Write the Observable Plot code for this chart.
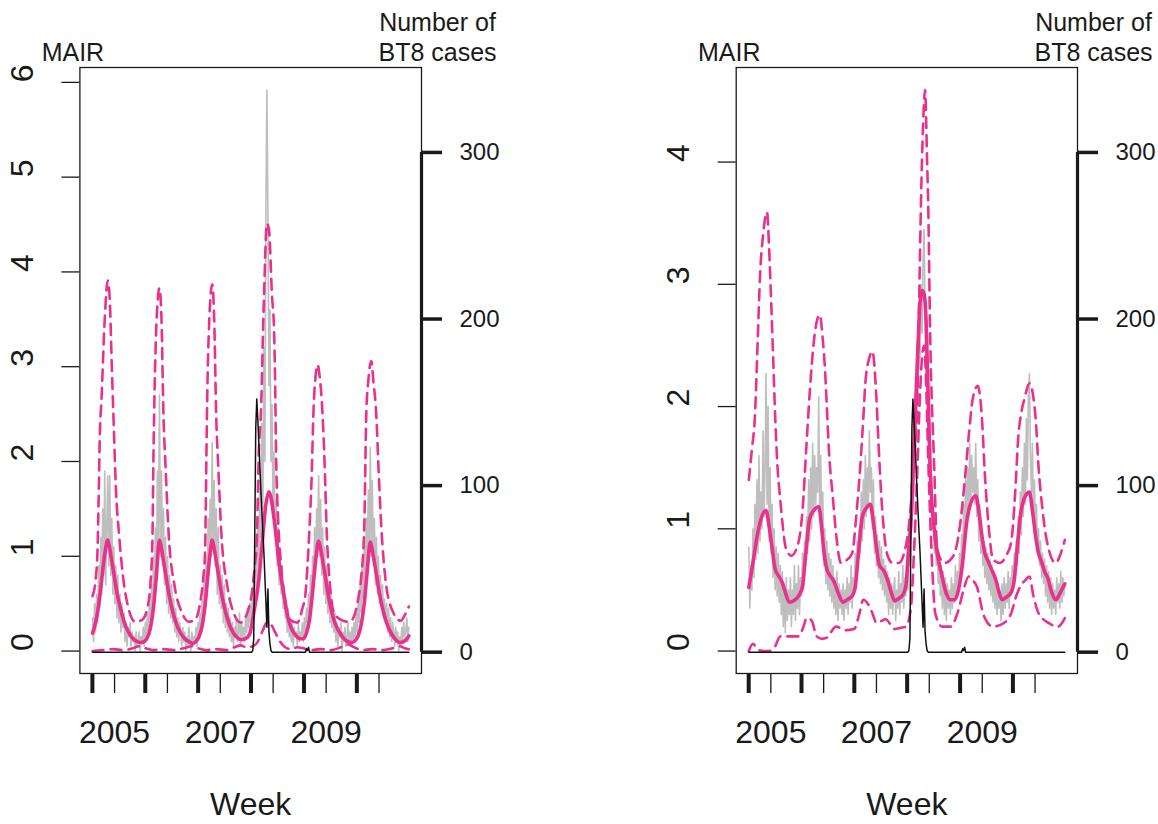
<!DOCTYPE html>
<html><head><meta charset="utf-8">
<script src="https://cdn.jsdelivr.net/npm/d3@7"></script>
<script src="https://cdn.jsdelivr.net/npm/@observablehq/plot@0.6"></script>
<style>
html,body{margin:0;padding:0;background:#fff;}
#wrap{position:relative;width:1158px;height:824px;overflow:hidden;background:#fff;}
#wrap svg{position:absolute;top:0;max-width:none;}
</style></head><body><div id="wrap"></div>
<script>
// ---------- data (weeks counted from the first surveillance week) ----------
const firstWeek = [2004, 7, 2];            // UTC year, month (0-based), day of week 0
const seasonStartYears = [2004, 2005, 2006, 2007, 2008, 2009]; // thick ticks (1 August)
const yearTicks = [2005, 2006, 2007, 2008, 2009, 2010];        // thin ticks (1 January)
const yearLabels = [2005, 2007, 2009];
const mairTicksLeft = [0, 1, 2, 3, 4, 5, 6];
const mairTicksRight = [0, 1, 2, 3, 4];
const bt8Ticks = [0, 100, 200, 300];

const bt8Week  = [0,157,158,159,160,161,162,163,164,165,166,167,168,169,170,171,172,173,174,175,176,177,210,211,212,213,214,312];
const bt8Cases = [0,0,1,8,70,135,152,140,126,112,98,85,72,60,45,30,15,38,12,5,1,0,0,2,1,3,0,0];

const leftObserved = [
0.35,0.1,0.5,0.2,0.6,0.3,0.9,0.45,1.2,0.6,1.5,0.8,1.9,0.7,1.3,
1.85,0.9,1.85,0.8,1.4,0.6,1.1,0.5,0.9,0.35,0.8,0.3,0.6,0.2,0.5,0.25,
0.4,0.1,0.3,0.05,0.25,0.15,0.3,0.05,0.2,0.1,0.15,0.0,0.2,0.05,0.1,0.2,0.0,0.15,0.1,0.25,
0.05,0.3,0.15,0.4,0.2,0.5,0.3,0.7,0.4,1.0,0.6,1.3,0.8,1.9,1.1,
2.7,1.0,1.9,0.9,1.5,0.7,1.2,0.5,1.0,0.4,0.8,0.35,0.7,0.3,0.55,
0.2,0.45,0.15,0.35,0.1,0.3,0.2,0.05,0.25,0.1,0.2,0.0,0.15,0.05,0.25,0.1,0.0,0.2,0.05,0.15,0.1,
0.25,0.05,0.3,0.15,0.4,0.2,0.55,0.3,0.8,0.4,1.0,0.6,1.4,0.8,1.6,1.0,
2.2,1.1,1.8,0.9,1.5,0.6,1.3,0.5,0.9,0.45,0.8,0.3,0.7,0.25,0.5,
0.2,0.45,0.15,0.35,0.1,0.3,0.05,0.25,0.15,0.35,0.1,0.2,0.4,0.05,0.3,0.15,0.25,0.1,0.35,0.2,
0.45,0.25,0.5,0.3,0.6,0.4,0.8,0.5,1.1,0.7,1.4,0.9,1.8,1.2,2.4,1.5,3.2,2.0,4.7,5.92,4.6,2.8,3.6,2.0,2.6,1.5,2.1,1.2,1.6,0.9,1.3,0.7,1.0,
0.6,0.9,0.45,0.7,0.35,0.55,0.2,0.45,0.15,0.35,0.1,0.3,0.05,0.25,0.15,0.2,0.05,0.3,0.1,0.2,
0.15,0.3,0.1,0.35,0.2,0.45,0.3,0.6,0.4,0.8,0.5,1.0,0.7,1.3,0.8,1.5,1.0,
1.85,1.0,1.6,0.8,1.3,0.6,1.1,0.5,0.9,0.4,0.7,0.3,0.6,0.25,0.45,
0.2,0.4,0.1,0.3,0.05,0.25,0.15,0.3,0.0,0.2,0.1,0.25,0.05,0.15,0.3,0.1,0.2,0.05,0.25,0.1,
0.3,0.15,0.4,0.2,0.5,0.3,0.7,0.4,0.9,0.55,1.1,0.7,1.4,0.9,1.7,1.1,
2.15,1.0,1.8,0.9,1.4,0.7,1.2,0.6,1.0,0.5,0.8,0.45,0.7,0.35,0.55,0.3,0.5,
0.2,0.45,0.15,0.35,0.1,0.3,0.2,0.05,0.25,0.1,0.2,0.0,0.15,0.05,0.25,0.1,0.3,0.15,0.2,0.35,0.1,0.25
];

const leftFitWeek = [0,3,6,9,12,15,17,19,21,24,28,32,36,40,44,48,51,54,57,60,63,66,68,70,72,75,79,83,87,91,95,99,102,105,108,111,114,116,118,120,122,124,127,131,135,139,143,147,151,155,159,164,167,171,174,176,179,184,189,193,197,201,205,208,211,214,217,220,223,225,227,229,232,236,240,244,248,252,256,259,262,265,268,271,274,276,278,280,283,287,291,295,299,303,307,310,312];
const leftFit = [0.19,0.30,0.48,0.75,1.02,1.17,1.08,0.95,0.82,0.62,0.43,0.28,0.19,0.13,0.10,0.09,0.10,0.14,0.24,0.45,0.80,1.17,1.08,0.95,0.82,0.62,0.42,0.28,0.19,0.13,0.10,0.08,0.10,0.15,0.26,0.48,0.83,1.03,1.17,1.08,0.95,0.82,0.62,0.42,0.28,0.19,0.14,0.12,0.13,0.18,0.40,0.75,1.10,1.55,1.68,1.62,1.40,0.93,0.58,0.34,0.22,0.16,0.13,0.13,0.19,0.33,0.62,0.95,1.16,1.08,0.95,0.83,0.62,0.41,0.27,0.19,0.13,0.10,0.09,0.11,0.16,0.28,0.50,0.85,1.15,1.06,0.94,0.81,0.61,0.41,0.27,0.18,0.12,0.09,0.10,0.13,0.16];

const leftUpperWeek = [0,3,5,6,7,9,12,15,17,19,21,23,26,30,35,42,49,54,57,59,60,61,63,66,68,70,72,75,81,88,95,101,106,109,111,112,113,115,118,120,122,124,127,133,140,146,151,154,157,160,162,164,166,169,172,174,177,179,180,181,183,186,189,195,202,207,210,212,214,216,218,220,222,224,227,229,231,234,238,245,252,256,259,262,265,268,270,272,275,277,280,282,285,289,296,304,309,312];
const leftUpper = [0.58,0.75,1.10,1.60,2.20,2.70,3.50,3.91,3.70,3.00,2.35,1.72,1.25,0.79,0.47,0.31,0.33,0.45,0.70,1.14,2.00,2.65,3.45,3.83,3.50,2.47,1.95,1.25,0.68,0.41,0.31,0.33,0.50,0.75,1.05,1.80,2.60,3.45,3.87,3.50,2.47,1.95,1.25,0.68,0.38,0.30,0.36,0.45,0.60,0.90,1.15,2.10,2.50,3.70,4.51,4.45,3.75,3.40,2.90,2.10,1.40,0.90,0.55,0.33,0.30,0.45,0.60,0.90,1.30,1.80,2.55,2.90,3.02,2.90,2.47,1.95,1.25,0.72,0.41,0.33,0.31,0.33,0.40,0.55,0.78,1.30,2.50,2.85,3.06,2.85,2.47,1.95,1.28,0.75,0.42,0.32,0.40,0.47];

const leftLowerWeek = [0,10,20,30,40,46,52,60,70,80,90,98,104,112,122,132,140,146,152,158,163,168,172,176,180,185,190,196,202,208,215,225,235,245,252,258,266,276,286,296,303,308,312];
const leftLower = [0.00,0.01,0.02,0.01,0.03,0.05,0.03,0.01,0.02,0.01,0.03,0.05,0.03,0.01,0.02,0.01,0.04,0.06,0.04,0.05,0.10,0.22,0.30,0.28,0.20,0.10,0.04,0.02,0.04,0.03,0.01,0.02,0.01,0.04,0.07,0.04,0.01,0.02,0.01,0.03,0.05,0.03,0.02];

const rightObserved = [
0.85,0.35,0.7,0.5,1.0,0.6,1.2,0.75,1.4,0.8,1.6,0.9,1.3,1.0,1.8,1.1,1.5,
2.27,
1.2,2.0,0.9,1.5,0.8,1.2,0.6,1.0,0.5,0.85,0.45,0.8,0.4,0.7,0.3,0.65,0.2,0.55,0.15,0.6,0.25,0.5,0.3,
0.6,0.2,0.5,0.3,0.7,0.25,0.55,0.35,0.7,0.3,0.6,0.45,0.8,0.5,0.9,
0.7,1.1,0.8,1.4,0.9,1.5,1.0,1.7,1.1,1.6,1.2,1.5,1.3,
2.08,
1.1,1.6,0.9,1.3,0.7,1.0,0.55,0.9,0.5,0.8,0.45,0.75,0.4,0.7,0.35,0.6,0.3,0.65,0.25,0.55,0.35,0.5,0.3,
0.55,0.25,0.5,0.35,0.6,0.3,0.55,0.4,0.7,0.35,0.6,0.5,0.8,0.55,0.9,
0.7,1.0,0.8,1.3,0.9,1.4,1.0,1.6,1.1,1.5,1.2,1.8,1.3,
1.5,1.0,1.4,0.8,1.1,0.7,0.95,0.6,0.9,0.55,0.85,0.5,0.75,0.45,0.7,0.4,0.65,0.3,0.6,0.35,0.55,0.3,0.5,
0.6,0.25,0.5,0.35,0.65,0.3,0.55,0.4,0.7,0.35,0.6,0.45,0.8,0.5,0.9,0.7,1.1,
1.0,1.5,1.3,1.9,1.6,2.3,2.0,2.7,2.4,3.0,2.6,3.2,3.45,2.8,2.2,2.5,1.8,1.6,1.3,1.5,1.0,1.2,0.8,1.0,0.7,
0.9,0.55,0.8,0.45,0.7,0.35,0.65,0.3,0.6,0.25,0.55,0.35,0.5,0.3,0.6,0.35,0.55,0.4,0.7,0.45,0.65,
0.5,0.8,0.6,0.95,0.75,1.2,0.9,1.4,1.0,1.5,1.1,1.7,1.2,1.6,1.3,1.5,1.2,
1.7,1.1,1.4,0.9,1.2,0.8,1.0,0.7,0.9,0.6,0.85,0.55,0.8,0.5,0.75,0.45,0.7,0.4,0.65,0.35,0.6,0.3,0.55,0.35,0.5,0.25,0.55,
0.3,0.6,0.35,0.55,0.4,0.65,0.35,0.6,0.45,0.7,0.5,0.8,0.6,0.9,0.7,
1.1,0.8,1.3,0.95,1.5,1.1,1.7,1.2,1.9,1.4,2.1,2.27,1.6,1.3,1.7,
1.1,1.4,0.9,1.2,0.8,1.0,0.7,0.9,0.6,0.8,0.55,0.75,0.45,0.7,0.4,0.65,0.35,0.6,0.3,0.55,0.35,0.5,0.3,0.6,0.4,0.55,0.35,0.65,0.4,0.6,0.45,0.55
];

const rightFitWeek = [0,4,8,12,17,20,23,26,29,33,36,40,44,49,53,56,60,64,69,72,74,77,80,84,88,93,97,102,105,108,112,116,120,123,126,129,133,137,141,144,148,152,155,158,161,163,165,167,169,171,173,175,177,179,183,186,190,195,199,203,207,211,215,218,224,227,230,233,236,240,244,247,250,254,259,262,265,268,272,277,280,283,286,289,292,295,299,303,307,310,312];
const rightFit = [0.52,0.72,0.93,1.08,1.15,1.02,0.84,0.67,0.62,0.56,0.48,0.40,0.41,0.45,0.53,0.78,1.08,1.15,1.18,1.00,0.82,0.67,0.62,0.57,0.48,0.40,0.42,0.45,0.52,0.78,1.10,1.17,1.20,1.05,0.85,0.70,0.66,0.58,0.47,0.41,0.43,0.46,0.53,0.86,1.20,1.67,2.08,2.50,2.85,2.95,2.92,2.70,2.10,1.50,1.00,0.80,0.64,0.47,0.42,0.42,0.50,0.72,1.05,1.18,1.27,1.15,0.95,0.80,0.74,0.66,0.58,0.48,0.42,0.44,0.48,0.58,0.85,1.10,1.25,1.30,1.15,0.95,0.80,0.73,0.65,0.60,0.48,0.42,0.47,0.52,0.55];

const rightUpperWeek = [0,3,6,9,11,14,18,20,22,24,26,28,31,37,42,49,53,57,60,62,66,70,73,75,77,79,83,86,91,96,102,106,110,113,115,119,122,126,128,131,137,142,148,155,160,163,166,168,170,172,174,176,177,179,183,186,193,202,208,213,217,221,226,230,233,237,241,248,254,259,263,266,269,272,277,283,286,290,294,303,308,312];
const rightUpper = [1.40,1.65,1.92,2.60,3.06,3.40,3.59,3.30,2.87,2.40,1.92,1.55,1.24,0.83,0.78,0.89,1.15,1.70,2.10,2.33,2.65,2.75,2.55,2.33,2.00,1.65,1.25,0.97,0.72,0.74,0.80,1.10,1.51,1.90,2.19,2.40,2.45,2.06,1.70,1.24,0.78,0.72,0.72,0.86,1.20,1.60,1.95,2.80,3.69,4.30,4.59,4.00,3.69,2.60,1.51,0.83,0.72,0.78,1.00,1.38,1.75,2.06,2.17,1.92,1.45,1.00,0.75,0.72,0.78,0.89,1.30,1.75,1.95,2.06,2.19,1.92,1.51,1.15,0.91,0.72,0.80,0.91];

const rightLowerWeek = [0,4,8,14,20,26,31,39,49,54,57,62,67,72,77,86,95,104,109,113,118,122,126,135,144,150,155,160,163,166,169,171,173,175,177,179,181,184,191,199,206,212,217,221,225,232,241,250,259,264,268,273,277,281,286,296,305,312];
const rightLower = [0.00,0.06,0.02,0.00,0.00,0.04,0.12,0.12,0.12,0.20,0.27,0.25,0.12,0.10,0.11,0.20,0.17,0.18,0.30,0.42,0.38,0.31,0.23,0.26,0.18,0.19,0.20,0.35,0.80,1.40,2.10,2.40,2.50,2.20,1.60,1.10,0.70,0.31,0.20,0.20,0.31,0.50,0.61,0.58,0.53,0.29,0.20,0.22,0.31,0.45,0.53,0.58,0.61,0.45,0.31,0.23,0.20,0.27];

// ---------- drawing ----------
const FONT = "'Liberation Sans', Arial, Helvetica, sans-serif";
const INK = "#1a1a1a";
const PINK = "#e9318c";
const GREY = "#bebebe";

const t0 = Date.UTC(...firstWeek);
const WEEK = 7 * 864e5;
const toDate = w => new Date(t0 + w * WEEK);
const nWeeks = leftObserved.length;
const xStart = toDate(0), xEnd = toDate(nWeeks - 1);
const xPad = 0.04 * (xEnd - xStart);
const xDomain = [new Date(+xStart - xPad), new Date(+xEnd + xPad)];

const series = (V) => V.map((v, i) => ({date: toDate(i), v}));
const knots = (W, V) => W.map((w, i) => ({date: toDate(w), v: V[i]}));
const bt8 = knots(bt8Week, bt8Cases);
const seasonStarts = seasonStartYears.map(y => new Date(Date.UTC(y, 7, 1)));
const jan1 = y => new Date(Date.UTC(y, 0, 1));

function rangeExt(arrays) {
  const all = arrays.flat();
  const lo = d3.min(all), hi = d3.max(all), p = 0.04 * (hi - lo);
  return [lo - p, hi + p];
}

const W = 579, H = 824, MT = 67, MB = 151;

function panel(opts) {
  const {offset, marginLeft, marginRight, observed, fitW, fit, upW, up, loW, lo, mairTicks} = opts;
  const yDomain = rangeExt([observed, fit, up, lo]);
  const base = {
    width: W, height: H, marginLeft, marginRight, marginTop: MT, marginBottom: MB,
    x: {type: "utc", domain: xDomain, label: null},
    style: {fontFamily: FONT, color: INK, background: "transparent", overflow: "visible"}
  };
  const dash = {stroke: PINK, strokeWidth: 2.6, strokeDasharray: "11,7", curve: "monotone-x"};
  const mair = Plot.plot({
    ...base,
    y: {domain: yDomain, label: null},
    marks: [
      Plot.frame({stroke: INK, strokeWidth: 1.3}),
      Plot.line(series(observed), {x: "date", y: "v", stroke: GREY, strokeWidth: 1.6}),
      Plot.line(knots(loW, lo), {x: "date", y: "v", ...dash}),
      Plot.line(knots(upW, up), {x: "date", y: "v", ...dash}),
      Plot.line(knots(fitW, fit), {x: "date", y: "v", stroke: PINK, strokeWidth: 3.6, curve: "monotone-x"}),
      Plot.axisY({ticks: mairTicks, tickSize: 18, tickFormat: () => "", label: null, strokeWidth: 1.3}),
      Plot.text(mairTicks, {y: d => d, frameAnchor: "left", dx: -57, rotate: -90, text: d => String(d), fontSize: 32, fill: INK}),
      Plot.axisX({ticks: seasonStarts, tickSize: 20, tickFormat: () => "", label: null, strokeWidth: 4}),
      Plot.axisX({ticks: yearTicks.map(jan1), tickSize: 20, tickFormat: () => "", label: null, strokeWidth: 1.3}),
      Plot.text(yearLabels, {x: d => jan1(d), frameAnchor: "bottom", dy: 47, lineAnchor: "top", text: d => String(d), fontSize: 32, fill: INK}),
      Plot.text(["Week"], {frameAnchor: "bottom", dy: 141, lineAnchor: "bottom", textAnchor: "middle", fontSize: 32, fill: INK}),
      Plot.text(["MAIR"], {frameAnchor: "top-left", dx: -7, dy: -7, lineAnchor: "bottom", textAnchor: "middle", fontSize: 25, fill: INK}),
      Plot.text(["Number of\nBT8 cases"], {frameAnchor: "top-right", dx: 16, dy: -7, lineAnchor: "bottom", textAnchor: "middle", lineHeight: 1.2, fontSize: 25, fill: INK})
    ]
  });
  const cases = Plot.plot({
    ...base,
    x: {type: "utc", domain: xDomain, axis: null},
    y: {domain: [-12.8, 351], label: null},
    style: {...base.style, fontSize: "24px"},
    marks: [
      Plot.ruleX([xDomain[1]], {x: d => d, y1: 0, y2: d3.max(bt8Ticks), stroke: INK, strokeWidth: 3.2}),
      Plot.axisY({anchor: "right", ticks: bt8Ticks, tickSize: 20, tickPadding: 18, strokeWidth: 3.5, fontSize: 24, label: null}),
      Plot.line(bt8, {x: "date", y: "v", stroke: "#111", strokeWidth: 1.5})
    ]
  });
  for (const svg of [mair, cases]) {
    svg.style.left = offset + "px";
    document.getElementById("wrap").appendChild(svg);
  }
}

panel({offset: 0, marginLeft: 79.4, marginRight: 158, observed: leftObserved,
  fitW: leftFitWeek, fit: leftFit, upW: leftUpperWeek, up: leftUpper, loW: leftLowerWeek, lo: leftLower,
  mairTicks: mairTicksLeft});
panel({offset: 579, marginLeft: 156.7, marginRight: 81, observed: rightObserved,
  fitW: rightFitWeek, fit: rightFit, upW: rightUpperWeek, up: rightUpper, loW: rightLowerWeek, lo: rightLower,
  mairTicks: mairTicksRight});
</script></body></html>
